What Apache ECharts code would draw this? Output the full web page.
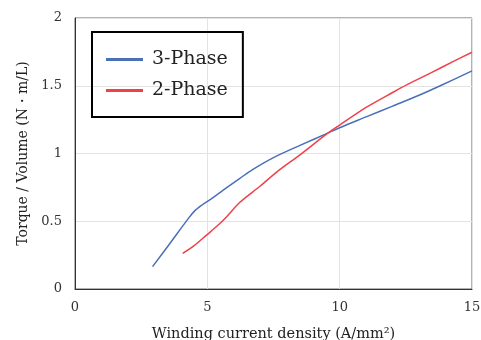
<!DOCTYPE html>
<html><head><meta charset="utf-8">
<script src="https://cdn.jsdelivr.net/npm/echarts@6/dist/echarts.min.js"></script>
<style>html,body{margin:0;padding:0;background:#fff}#c{width:481px;height:340px}</style>
</head><body><div id="c"></div>
<script>
const seriesNames = ['3-Phase', '2-Phase'];
const threePhase = [[2.93,0.165],[3.6,0.34],[4.3,0.525],[4.55,0.582],[4.8,0.62],[5.2,0.672],[5.6,0.73],[6.23,0.817],[6.74,0.885],[7.5,0.97],[8.5,1.06],[9.55,1.15],[10,1.19],[11,1.27],[12,1.35],[13,1.43],[13.8,1.5],[15,1.61]];
const twoPhase = [[4.07,0.263],[4.5,0.32],[4.97,0.398],[5.4,0.47],[5.73,0.534],[6.23,0.64],[7,0.76],[7.7,0.875],[8.5,0.99],[9.55,1.15],[10,1.21],[11,1.34],[12,1.45],[12.53,1.506],[13.5,1.6],[14.3,1.68],[15,1.747]];
const xTitle = 'Winding current density (A/mm²)';
const yTitle = 'Torque / Volume (N・m/L)';
const font = '"DejaVu Serif","Liberation Serif",serif';
const chart = echarts.init(document.getElementById('c'));
chart.setOption({
  animation: false,
  grid: {left: 75, top: 18, right: 9, bottom: 51, show: true, borderColor: '#666', borderWidth: 1, outerBoundsMode: 'none', containLabel: false},
  legend: {
    orient: 'vertical', left: 92, top: 32,
    data: seriesNames,
    icon: 'rect', itemWidth: 37, itemHeight: 3, itemGap: 12,
    borderColor: '#000', borderWidth: 2, padding: [18, 15, 17, 14],
    textStyle: {fontFamily: font, fontSize: 19, color: '#222', padding: [0,0,0,4]}
  },
  xAxis: {
    type: 'value', min: 0, max: 15, interval: 5,
    name: xTitle, nameLocation: 'middle', nameGap: 38,
    nameTextStyle: {fontFamily: font, fontSize: 14.5, color: '#222'},
    axisLine: {lineStyle: {color: '#333', width: 1}},
    axisTick: {show: false},
    axisLabel: {fontFamily: font, fontSize: 13, color: '#333', margin: 12},
    splitLine: {lineStyle: {color: '#e3e3e3', width: 1}}
  },
  yAxis: {
    type: 'value', min: 0, max: 2, interval: 0.5,
    name: yTitle, nameLocation: 'middle', nameGap: 45,
    nameTextStyle: {fontFamily: font, fontSize: 14, color: '#222'},
    axisLine: {show: true, lineStyle: {color: '#333', width: 1}},
    axisTick: {show: false},
    axisLabel: {fontFamily: font, fontSize: 13, color: '#333', margin: 13},
    splitLine: {lineStyle: {color: '#e3e3e3', width: 1}}
  },
  series: [
    {name: seriesNames[0], type: 'line', data: threePhase, smooth: 0.3, showSymbol: false,
     lineStyle: {color: '#4a70b8', width: 1.5}, itemStyle: {color: '#4a70b8'}},
    {name: seriesNames[1], type: 'line', data: twoPhase, smooth: 0.3, showSymbol: false,
     lineStyle: {color: '#f0404a', width: 1.5}, itemStyle: {color: '#f0404a'}}
  ]
});
</script></body></html>
